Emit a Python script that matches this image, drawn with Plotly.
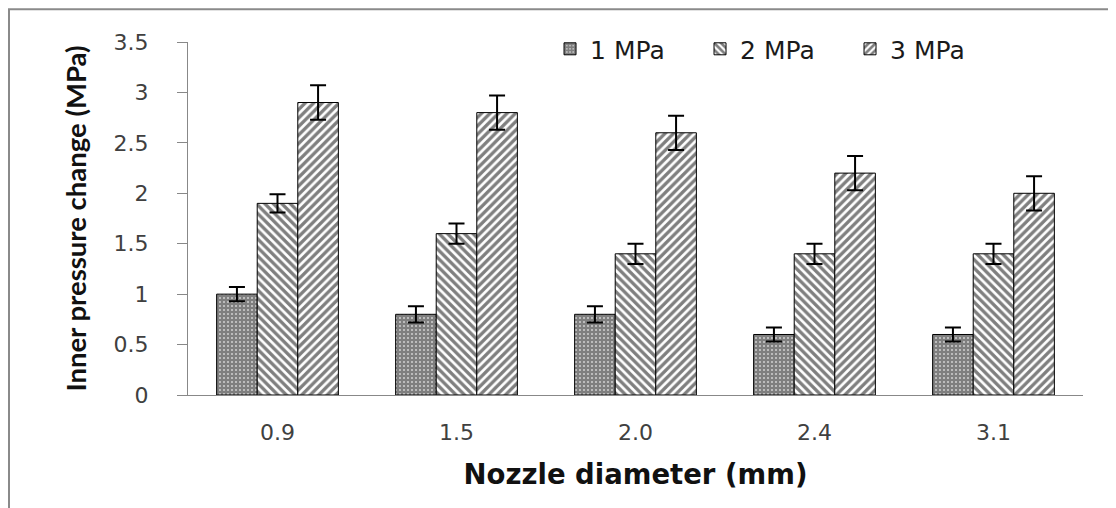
import plotly.graph_objects as go

categories = ["0.9", "1.5", "2.0", "2.4", "3.1"]
series_names = ["1 MPa", "2 MPa", "3 MPa"]
p1 = [1.0, 0.8, 0.8, 0.6, 0.6]
p2 = [1.9, 1.6, 1.4, 1.4, 1.4]
p3 = [2.9, 2.8, 2.6, 2.2, 2.0]
e1 = [0.07, 0.08, 0.08, 0.07, 0.07]
e2 = [0.09, 0.10, 0.10, 0.10, 0.10]
e3 = [0.17, 0.17, 0.17, 0.17, 0.17]
y_ticks = [0, 0.5, 1, 1.5, 2, 2.5, 3, 3.5]
y_tick_labels = ["0", "0.5", "1", "1.5", "2", "2.5", "3", "3.5"]

patterns = [
    dict(shape="+", size=4, solidity=0.9, fgcolor="black", bgcolor="white"),
    dict(shape="\\", size=6, solidity=0.55, fgcolor="black", bgcolor="white"),
    dict(shape="/", size=6, solidity=0.55, fgcolor="black", bgcolor="white"),
]

fig = go.Figure()
for name, vals, errs, pat in zip(series_names, [p1, p2, p3], [e1, e2, e3], patterns):
    fig.add_trace(go.Bar(
        x=categories, y=vals, name=name,
        marker=dict(color="white", pattern=pat, line=dict(color="black", width=1)),
        error_y=dict(type="data", array=errs, visible=True, color="black",
                     thickness=2, width=8),
    ))

# page body has an 8px margin: figure occupies screen x 8..1116, y 8..508
fig.update_layout(
    width=1108, height=500,
    margin=dict(l=180, r=33, t=34, b=113),
    paper_bgcolor="white", plot_bgcolor="white",
    barmode="group", bargap=0.32, bargroupgap=0,
    font=dict(family="DejaVu Sans", color="#404040"),
    showlegend=True,
    legend=dict(orientation="h", x=0.4045, xanchor="left", y=0.98, yanchor="middle",
                font=dict(family="DejaVu Sans", size=25, color="#1a1a1a"),
                bgcolor="rgba(0,0,0,0)", itemwidth=30, tracegroupgap=0,
                entrywidth=105, entrywidthmode="pixels"),
    xaxis=dict(
        showline=True, linecolor="#888888", linewidth=1,
        ticks="", tickfont=dict(family="DejaVu Sans", size=22, color="#404040"),
        ticklabelstandoff=18,
        title=dict(text="<b>Nozzle diameter (mm)</b>",
                   font=dict(family="DejaVu Sans", size=27.5, color="#111111"), standoff=20),
    ),
    yaxis=dict(
        range=[0, 3.5], tickvals=y_ticks, ticktext=y_tick_labels,
        showline=True, linecolor="#888888", linewidth=1,
        ticks="outside", ticklen=10, tickcolor="#888888",
        tickfont=dict(family="DejaVu Sans", size=22, color="#404040"),
        ticklabelstandoff=24,
        showgrid=False, zeroline=False,
        title=dict(text="<b>Inner pressure change (MPa)</b>",
                   font=dict(family="Lato", size=27.5, color="#111111"), standoff=18),
    ),
)

fig.add_shape(type="rect", xref="paper", yref="paper",
              x0=-0.2, x1=1.0346, y0=-0.4, y1=1.093,
              line=dict(color="#8a8a8a", width=2), fillcolor="rgba(0,0,0,0)", layer="below")

fig.write_html("out.html")
